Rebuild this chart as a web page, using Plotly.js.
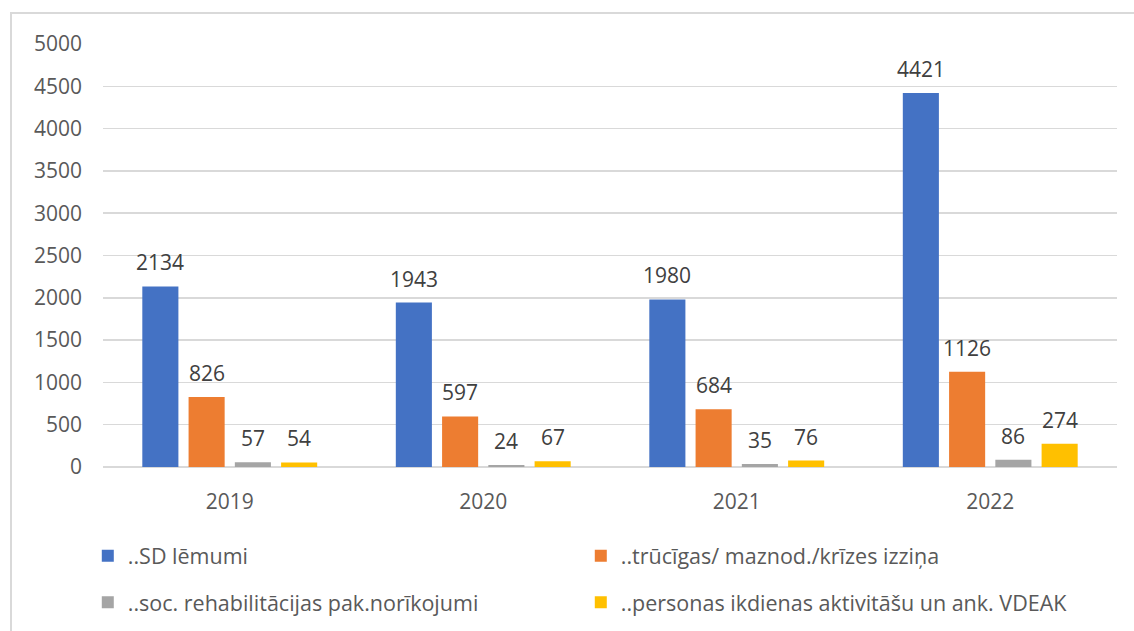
<!DOCTYPE html>
<html>
<head>
<meta charset="utf-8">
<script src="https://cdn.plot.ly/plotly-3.0.1.min.js"></script>
<style>
  html, body { margin:0; padding:0; overflow:hidden; background:#fff; }
  #frame { position:absolute; left:10px; top:12px; width:1300px; height:800px;
           border-left:2px solid #d9d9d9; border-top:2px solid #d9d9d9; pointer-events:none; z-index:5; }
  #chart { position:absolute; left:0; top:0; width:1134px; height:631px; }
</style>
</head>
<body>
<div id="chart"></div>
<div id="frame"></div>
<script>
const years = ["2019", "2020", "2021", "2022"];
const seriesNames = [
  "..SD lēmumi",
  "..trūcīgas/ maznod./krīzes izziņa",
  "..soc. rehabilitācijas pak.norīkojumi",
  "..personas ikdienas aktivitāšu un ank. VDEAK"
];
const sdLemumi = [2134, 1943, 1980, 4421];
const trucigas = [826, 597, 684, 1126];
const socRehab = [57, 24, 35, 86];
const vdeak = [54, 67, 76, 274];
const colors = ["#4472C4", "#ED7D31", "#A5A5A5", "#FFC000"];
const yTicks = [0, 500, 1000, 1500, 2000, 2500, 3000, 3500, 4000, 4500, 5000];

const allSeries = [sdLemumi, trucigas, socRehab, vdeak];
const legendIds = ["legend", "legend", "legend2", "legend2"];
const bargap = 0.27;
const slot = (1 - bargap) / allSeries.length;

const traces = allSeries.map((vals, j) => ({
  type: "bar",
  name: seriesNames[j],
  x: years,
  y: vals,
  marker: { color: colors[j] },
  legend: legendIds[j],
  hoverinfo: "x+y+name"
}));

const annotations = [];
allSeries.forEach((vals, j) => {
  vals.forEach((v, i) => {
    annotations.push({
      x: i + (j - (allSeries.length - 1) / 2) * slot,
      y: v,
      xref: "x", yref: "y",
      text: String(v),
      showarrow: false,
      xanchor: "center",
      yanchor: "bottom",
      yshift: 8,
      font: { family: "Open Sans, sans-serif", size: 21, color: "#404040" }
    });
  });
});

const legendFont = { family: "Open Sans, sans-serif", size: 21.5, color: "#595959" };

const layout = {
  width: 1134,
  height: 631,
  margin: { l: 103, r: 17, t: 44, b: 164, autoexpand: false },
  paper_bgcolor: "rgba(0,0,0,0)",
  plot_bgcolor: "rgba(0,0,0,0)",
  barmode: "group",
  bargap: bargap,
  bargroupgap: 0.22,
  showlegend: true,
  xaxis: {
    type: "category",
    categoryarray: years,
    showgrid: false,
    showline: false,
    zeroline: false,
    ticks: "",
    ticklabelstandoff: 20,
    tickfont: { family: "Open Sans, sans-serif", size: 21, color: "#595959" }
  },
  yaxis: {
    range: [0, 5000],
    tickvals: yTicks,
    ticktext: yTicks.map(String),
    showgrid: true,
    gridcolor: "#d9d9d9",
    gridwidth: 1.5,
    zeroline: true,
    zerolinecolor: "#d9d9d9",
    zerolinewidth: 1.5,
    showline: false,
    ticks: "",
    ticklabelstandoff: 20,
    tickfont: { family: "Open Sans, sans-serif", size: 21, color: "#595959" }
  },
  legend: {
    orientation: "h",
    x: -0.015, xanchor: "left",
    y: -0.21, yanchor: "middle",
    entrywidth: 448, entrywidthmode: "pixels",
    font: legendFont,
    bgcolor: "rgba(0,0,0,0)"
  },
  legend2: {
    orientation: "h",
    x: -0.015, xanchor: "left",
    y: -0.32, yanchor: "middle",
    entrywidth: 448, entrywidthmode: "pixels",
    font: legendFont,
    bgcolor: "rgba(0,0,0,0)"
  },
  annotations: annotations
};

Plotly.newPlot("chart", traces, layout, { displayModeBar: false, staticPlot: true });
</script>
</body>
</html>
